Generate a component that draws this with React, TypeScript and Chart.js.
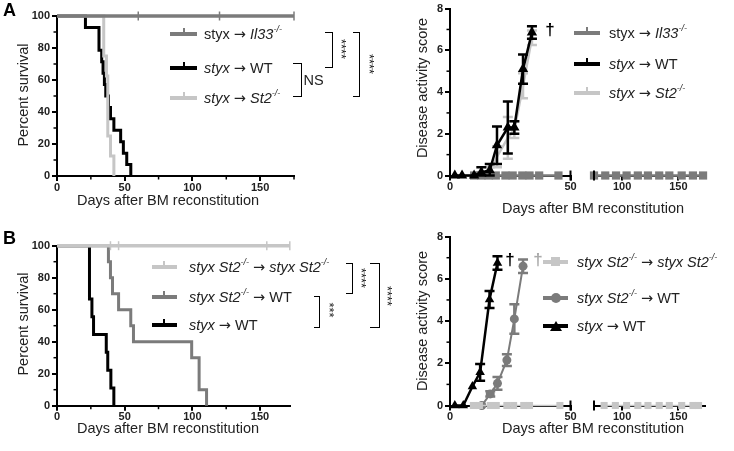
import React, { useEffect, useRef } from 'react';
import { Chart, registerables } from 'chart.js';

Chart.register(...registerables);

// ================= DATA =================
// Panel A – survival (Kaplan–Meier)
const survXTicks = [0, 50, 100, 150];
const survXMinor = [25, 75, 125, 175];
const survYTicks = [0, 20, 40, 60, 80, 100];
const survYMinor = [10, 30, 50, 70, 90];

const aIl33Days = [0, 175];
const aIl33Surv = [100, 100];
const aIl33CensorDays = [60, 120, 175];
const aIl33CensorSurv = [100, 100, 100];
const aWtDays = [0, 21, 31, 33, 34, 35, 36, 38, 39.5, 42, 47, 49, 51.5, 54.5];
const aWtSurv = [100, 92.86, 78.57, 71.43, 64.29, 57.14, 50, 42.86, 35.71, 28.57, 21.43, 14.29, 7.14, 0];
const aSt2Days = [0, 34.5, 36.5, 37.5, 39.5, 42];
const aSt2Surv = [100, 75, 62.5, 25, 12.5, 0];

// Panel A – disease activity score
const scoreYTicks = [0, 2, 4, 6, 8];
const scoreYMinor = [1, 3, 5, 7];
const seg1Ticks = [0, 50];
const seg2Ticks = [100, 150];

const aScoreDays = [2, 5, 10, 13, 16.5, 19.5, 24, 26.7, 30.3, 34];
const aWtScore = [0, 0, 0, 0.15, 0.25, 1.45, 2.3, 2.3, 5.1, 6.85];
const aWtErr = [0, 0, 0, 0.25, 0.3, 0.9, 1.25, 0.3, 0.7, 0.3];
const aSt2Score = [0, 0, 0, 0.05, 0.15, 0.9, 1.8, 2.2, 4.3, 6.6];
const aSt2Err = [0, 0, 0, 0.1, 0.25, 0.5, 1.0, 0.4, 0.6, 0.35];
const aIl33Days1 = [10, 13, 16, 19, 23, 26, 30, 33, 37, 45];
const aIl33Score1 = [0, 0, 0, 0, 0, 0, 0, 0, 0, 0];
const aIl33Days2 = [75, 85, 94.6, 104, 114, 123, 133, 142, 153, 163, 172];
const aIl33Score2 = [0, 0, 0, 0, 0, 0, 0, 0, 0, 0, 0];

// Panel B – survival
const bSurvXMinor = [25, 75, 125];
const bSt2St2Days = [0, 172];
const bSt2St2Surv = [100, 100];
const bSt2St2CensorDays = [39.5, 45.5, 155, 172];
const bSt2St2CensorSurv = [100, 100, 100, 100];
const bSt2WtDays = [0, 38, 39.5, 41, 45.5, 54.5, 56.5, 99.5, 105, 110.5];
const bSt2WtSurv = [100, 90, 80, 70, 60, 50, 40, 30, 10, 0];
const bWtDays = [0, 24, 25.8, 27, 36.4, 37.5, 39.8, 42];
const bWtSurv = [100, 66.67, 55.56, 44.44, 33.33, 22.22, 11.11, 0];

// Panel B – disease activity score
const bWtScoreDays = [2, 5.5, 9.3, 12.5, 16.4, 19.7];
const bWtScore = [0, 0, 0.9, 1.57, 5.02, 6.75];
const bWtErr = [0, 0, 0, 0.4, 0.4, 0.32];
const bSt2WtScoreDays = [13.2, 16.7, 19.7, 23.6, 26.7, 30.3];
const bSt2WtScore = [0, 0.55, 1.05, 2.15, 4.1, 6.6];
const bSt2WtErr = [0, 0.12, 0.3, 0.28, 0.7, 0.32];
const bSt2St2Days1 = [9.7, 12.2, 16.7, 19.2, 23.6, 26.4, 30.6, 33, 45.6];
const bSt2St2Score1 = [0, 0, 0, 0, 0, 0, 0, 0, 0];
const bSt2St2Days2 = [84, 94, 104, 114, 123, 133, 142, 153, 163, 168];
const bSt2St2Score2 = [0, 0, 0, 0, 0, 0, 0, 0, 0, 0];

// ================= STYLE =================
const FONT = "'Liberation Sans', Arial, Helvetica, sans-serif";
const ARROW_FONT = "'DejaVu Sans', 'Liberation Sans', sans-serif";
const BLACK = '#000000';
const DARK = '#7b7b7b';
const LIGHT = '#c6c6c6';
const TEXT = '#222222';

const pts = (xs: number[], ys: number[]) => xs.map((x, i) => ({ x, y: ys[i] }));

// minor ticks / axis-break marks plugin
const minorTicksPlugin = {
  id: 'minorTicks',
  defaults: { x: [], y: [], breaks: [] },
  afterDraw(chart: any, _args: any, opts: any) {
    const ctx = chart.ctx;
    const area = chart.chartArea;
    const xs = chart.scales.x;
    const ys = chart.scales.y;
    ctx.save();
    ctx.strokeStyle = '#000';
    ctx.lineWidth = 1.5;
    (opts.x || []).forEach((v: number) => {
      const px = xs.getPixelForValue(v);
      ctx.beginPath();
      ctx.moveTo(px, area.bottom);
      ctx.lineTo(px, area.bottom + 3.5);
      ctx.stroke();
    });
    (opts.y || []).forEach((v: number) => {
      const py = ys.getPixelForValue(v);
      ctx.beginPath();
      ctx.moveTo(area.left, py);
      ctx.lineTo(area.left - 3.5, py);
      ctx.stroke();
    });
    ctx.lineWidth = 2;
    (opts.breaks || []).forEach((v: number) => {
      const px = xs.getPixelForValue(v);
      ctx.beginPath();
      ctx.moveTo(px, area.bottom - 5);
      ctx.lineTo(px, area.bottom + 5);
      ctx.stroke();
    });
    ctx.restore();
  },
};

// error bars plugin: draws mean ± error from dataset.errors through the y scale
const errorBarsPlugin = {
  id: 'errorBars',
  afterDatasetDraw(chart: any, args: any) {
    const ds: any = chart.data.datasets[args.index];
    if (!ds.errors) return;
    const ys = chart.scales.y;
    const ctx = chart.ctx;
    ctx.save();
    ctx.strokeStyle = ds.borderColor;
    ctx.lineWidth = ds.errWidth || 2.5;
    args.meta.data.forEach((pt: any, i: number) => {
      const e = ds.errors[i];
      if (!e) return;
      const v = ds.data[i].y;
      const top = ys.getPixelForValue(v + e);
      const bot = ys.getPixelForValue(Math.max(v - e, 0));
      const cap = 5;
      ctx.beginPath();
      ctx.moveTo(pt.x, top);
      ctx.lineTo(pt.x, bot);
      ctx.moveTo(pt.x - cap, top);
      ctx.lineTo(pt.x + cap, top);
      ctx.moveTo(pt.x - cap, bot);
      ctx.lineTo(pt.x + cap, bot);
      ctx.stroke();
    });
    ctx.restore();
  },
};

Chart.register(minorTicksPlugin as any, errorBarsPlugin as any);

type Rect = { x: number; y: number; w: number; h: number };
type Area = { l: number; t: number; r: number; b: number };
type Spec = {
  rect: Rect;
  area: Area;
  xMin: number;
  xMax: number;
  xTicks: number[];
  xMinor: number[];
  yMin: number;
  yMax: number;
  yTicks: number[];
  yMinor: number[];
  showY: boolean;
  breaks?: number[];
  datasets: any[];
};

function buildConfig(p: Spec): any {
  const { rect, area } = p;
  const yW = area.l - rect.x;
  const xH = rect.y + rect.h - area.b;
  const tickFont = { family: FONT, size: 11, weight: 'bold' as const };
  const grid = { display: true, drawOnChartArea: false, drawTicks: true, tickLength: 5, lineWidth: 2, color: '#000' };
  const border = { display: true, width: 2, color: '#000' };
  return {
    type: 'line',
    data: { datasets: p.datasets },
    options: {
      animation: false,
      responsive: false,
      devicePixelRatio: 1,
      layout: {
        padding: {
          left: p.showY ? 0 : area.l - rect.x,
          right: rect.x + rect.w - area.r,
          top: area.t - rect.y,
          bottom: 0,
        },
      },
      plugins: {
        legend: { display: false },
        tooltip: { enabled: false },
        minorTicks: { x: p.xMinor, y: p.showY ? p.yMinor : [], breaks: p.breaks || [] },
      },
      scales: {
        x: {
          type: 'linear',
          min: p.xMin,
          max: p.xMax,
          afterBuildTicks: (s: any) => {
            s.ticks = p.xTicks.map((v) => ({ value: v }));
          },
          afterFit: (s: any) => {
            s.height = xH;
          },
          ticks: { autoSkip: false, maxRotation: 0, padding: 0, font: tickFont, color: TEXT, callback: (v: any) => String(v) },
          grid,
          border,
        },
        y: {
          type: 'linear',
          display: p.showY,
          min: p.yMin,
          max: p.yMax,
          afterBuildTicks: (s: any) => {
            s.ticks = p.yTicks.map((v) => ({ value: v }));
          },
          afterFit: (s: any) => {
            s.width = yW;
          },
          ticks: { autoSkip: false, padding: 2, font: tickFont, color: TEXT, callback: (v: any) => String(v) },
          grid,
          border,
        },
      },
    },
  };
}

function ChartBox({ spec }: { spec: Spec }) {
  const ref = useRef<HTMLCanvasElement>(null);
  useEffect(() => {
    const chart = new Chart(ref.current as HTMLCanvasElement, buildConfig(spec));
    return () => chart.destroy();
  }, []);
  const r = spec.rect;
  return (
    <canvas
      ref={ref}
      width={r.w}
      height={r.h}
      style={{ position: 'absolute', left: r.x, top: r.y, width: r.w, height: r.h }}
    />
  );
}

// ---- dataset helpers ----
// Kaplan–Meier: value holds until the event day, then drops (step before the point)
const survLine = (xs: number[], ys: number[], color: string, order: number, width = 3) => ({
  data: pts(xs, ys),
  borderColor: color,
  borderWidth: width,
  stepped: 'before',
  pointRadius: 0,
  order,
  clip: false,
});
const censor = (xs: number[], ys: number[], color: string, order: number) => ({
  data: pts(xs, ys),
  showLine: false,
  pointStyle: 'line',
  rotation: 90,
  pointRadius: 4.5,
  pointBorderWidth: 1.5,
  borderColor: color,
  pointBorderColor: color,
  order,
  clip: false,
});
const scoreLine = (
  xs: number[],
  ys: number[],
  color: string,
  order: number,
  style: string,
  radius: number,
  width: number,
  errors?: number[],
) => ({
  data: pts(xs, ys),
  borderColor: color,
  borderWidth: width,
  pointStyle: style,
  pointRadius: radius,
  pointBackgroundColor: color,
  pointBorderColor: color,
  pointBorderWidth: 0,
  order,
  clip: false,
  errors,
  errWidth: 2.5,
});

// ---- panel specs ----
const specALeft: Spec = {
  rect: { x: 0, y: 0, w: 300, h: 215 },
  area: { l: 57, t: 16, r: 295, b: 176 },
  xMin: 0, xMax: 175, xTicks: survXTicks, xMinor: survXMinor,
  yMin: 0, yMax: 100, yTicks: survYTicks, yMinor: survYMinor,
  showY: true,
  datasets: [
    survLine(aIl33Days, aIl33Surv, DARK, 0, 3.5),
    censor(aIl33CensorDays, aIl33CensorSurv, DARK, 0),
    survLine(aSt2Days, aSt2Surv, LIGHT, 1),
    survLine(aWtDays, aWtSurv, BLACK, 2),
  ],
};

const specARight1: Spec = {
  rect: { x: 400, y: 0, w: 180, h: 215 },
  area: { l: 450, t: 7.5, r: 570.5, b: 175.5 },
  xMin: 0, xMax: 50, xTicks: seg1Ticks, xMinor: [],
  yMin: 0, yMax: 8, yTicks: scoreYTicks, yMinor: scoreYMinor,
  showY: true,
  breaks: [50],
  datasets: [
    scoreLine(aScoreDays, aWtScore, BLACK, 0, 'triangle', 6, 2.5, aWtErr),
    scoreLine(aIl33Days1, aIl33Score1, DARK, 1, 'rect', 5.8, 2.5),
    scoreLine(aScoreDays, aSt2Score, LIGHT, 2, 'circle', 0, 2.5, aSt2Err),
  ],
};

const specARight2: Spec = {
  rect: { x: 575, y: 0, w: 159, h: 215 },
  area: { l: 584.5, t: 7.5, r: 705.3, b: 175.5 },
  xMin: 75, xMax: 174, xTicks: seg2Ticks, xMinor: [],
  yMin: 0, yMax: 8, yTicks: scoreYTicks, yMinor: [],
  showY: false,
  breaks: [75],
  datasets: [scoreLine(aIl33Days2, aIl33Score2, DARK, 0, 'rect', 5.8, 2.5)],
};

const specBLeft: Spec = {
  rect: { x: 0, y: 230, w: 300, h: 215 },
  area: { l: 57, t: 245.7, r: 289.8, b: 405.7 },
  xMin: 0, xMax: 172, xTicks: survXTicks, xMinor: bSurvXMinor,
  yMin: 0, yMax: 100, yTicks: survYTicks, yMinor: survYMinor,
  showY: true,
  datasets: [
    survLine(bSt2St2Days, bSt2St2Surv, LIGHT, 0, 3.5),
    censor(bSt2St2CensorDays, bSt2St2CensorSurv, LIGHT, 0),
    survLine(bSt2WtDays, bSt2WtSurv, DARK, 1),
    survLine(bWtDays, bWtSurv, BLACK, 2),
  ],
};

const specBRight1: Spec = {
  rect: { x: 400, y: 228, w: 180, h: 215 },
  area: { l: 450, t: 235.5, r: 570.5, b: 405.5 },
  xMin: 0, xMax: 50, xTicks: seg1Ticks, xMinor: [],
  yMin: 0, yMax: 8, yTicks: scoreYTicks, yMinor: scoreYMinor,
  showY: true,
  breaks: [50],
  datasets: [
    scoreLine(bWtScoreDays, bWtScore, BLACK, 0, 'triangle', 5.5, 2.5, bWtErr),
    scoreLine(bSt2St2Days1, bSt2St2Score1, LIGHT, 1, 'rect', 5, 1.5),
    scoreLine(bSt2WtScoreDays, bSt2WtScore, DARK, 2, 'circle', 4.5, 2, bSt2WtErr),
  ],
};

const specBRight2: Spec = {
  rect: { x: 575, y: 228, w: 159, h: 215 },
  area: { l: 584.5, t: 235.5, r: 705.3, b: 405.5 },
  xMin: 75, xMax: 174, xTicks: seg2Ticks, xMinor: [],
  yMin: 0, yMax: 8, yTicks: scoreYTicks, yMinor: [],
  showY: false,
  breaks: [75],
  datasets: [scoreLine(bSt2St2Days2, bSt2St2Score2, LIGHT, 0, 'rect', 5, 1.5)],
};

// ================= HTML TEXT =================
const Txt = ({
  x, y, children, size = 14.5, rot = 0, weight = 'normal', color = TEXT, left = false,
}: any) => (
  <div
    style={{
      position: 'absolute',
      left: x,
      top: y,
      transform: `translate(${left ? '0' : '-50%'}, -50%) rotate(${rot}deg)`,
      fontSize: size,
      fontWeight: weight,
      color,
      whiteSpace: 'nowrap',
      lineHeight: 1,
      fontFamily: FONT,
    }}
  >
    {children}
  </div>
);

const Sup = ({ children }: any) => (
  <sup style={{ fontSize: '0.62em', fontStyle: 'italic', verticalAlign: '0.75em', lineHeight: 0 }}>{children}</sup>
);

const Arr = () => <span style={{ fontFamily: ARROW_FONT }}>→</span>;

const Bracket = ({ x, y1, y2, w }: any) => (
  <div
    style={{
      position: 'absolute',
      left: x - w,
      top: y1,
      width: w,
      height: y2 - y1,
      boxSizing: 'border-box',
      borderTop: '1.5px solid #000',
      borderRight: '1.5px solid #000',
      borderBottom: '1.5px solid #000',
    }}
  />
);

const Swatch = ({ x1, x2, y, color, marker }: any) => {
  const mid = (x1 + x2) / 2;
  let m: any = null;
  if (marker === 'tick') {
    m = <div style={{ position: 'absolute', left: mid - 1, top: y - 6, width: 2, height: 6, background: color }} />;
  } else if (marker === 'square') {
    m = <div style={{ position: 'absolute', left: mid - 4.5, top: y - 4.5, width: 9, height: 9, background: color }} />;
  } else if (marker === 'circle') {
    m = <div style={{ position: 'absolute', left: mid - 5, top: y - 5, width: 10, height: 10, borderRadius: 5, background: color }} />;
  } else if (marker === 'triangle') {
    m = (
      <div
        style={{
          position: 'absolute', left: mid - 6, top: y - 5.5, width: 0, height: 0,
          borderLeft: '6px solid transparent', borderRight: '6px solid transparent', borderBottom: `10px solid ${color}`,
        }}
      />
    );
  }
  return (
    <>
      <div style={{ position: 'absolute', left: x1, top: y - 2, width: x2 - x1, height: 4, background: color }} />
      {m}
    </>
  );
};

export default function App() {
  return (
    <div
      style={{
        position: 'fixed', left: 0, top: 0, width: 734, height: 451, background: '#fff',
        overflow: 'hidden', fontFamily: FONT,
      }}
    >
      <ChartBox spec={specALeft} />
      <ChartBox spec={specARight1} />
      <ChartBox spec={specARight2} />
      <ChartBox spec={specBLeft} />
      <ChartBox spec={specBRight1} />
      <ChartBox spec={specBRight2} />

      {/* panel letters */}
      <Txt x={3} y={10} size={18} weight="bold" color="#000" left>A</Txt>
      <Txt x={3} y={238} size={18} weight="bold" color="#000" left>B</Txt>

      {/* axis titles */}
      <Txt x={23} y={95} rot={-90}>Percent survival</Txt>
      <Txt x={168} y={200}>Days after BM reconstitution</Txt>
      <Txt x={421.7} y={88} rot={-90}>Disease activity score</Txt>
      <Txt x={593} y={208}>Days after BM reconstitution</Txt>
      <Txt x={23} y={324} rot={-90}>Percent survival</Txt>
      <Txt x={168} y={428}>Days after BM reconstitution</Txt>
      <Txt x={421.7} y={321} rot={-90}>Disease activity score</Txt>
      <Txt x={593} y={428}>Days after BM reconstitution</Txt>

      {/* A left legend */}
      <Swatch x1={170} x2={197} y={34.3} color={DARK} marker="tick" />
      <Txt x={204} y={34.3} left>styx <Arr /> <i>Il33</i><Sup>-/-</Sup></Txt>
      <Swatch x1={170} x2={197} y={67.7} color={BLACK} marker="tick" />
      <Txt x={204} y={67.7} left><i>styx</i> <Arr /> WT</Txt>
      <Swatch x1={170} x2={197} y={97.7} color={LIGHT} marker="tick" />
      <Txt x={204} y={97.7} left><i>styx</i> <Arr /> <i>St2</i><Sup>-/-</Sup></Txt>

      {/* A brackets */}
      <Bracket x={333} y1={32} y2={68} w={8} />
      <Txt x={341} y={49} size={13} rot={90}>****</Txt>
      <Bracket x={301.7} y1={62.7} y2={97.3} w={9} />
      <Txt x={313.5} y={80}>NS</Txt>
      <Bracket x={360} y1={32} y2={96.7} w={7.3} />
      <Txt x={369} y={64} size={13} rot={90}>****</Txt>

      {/* A right legend */}
      <Swatch x1={574} x2={600} y={33.3} color={DARK} marker="tick" />
      <Txt x={609} y={33.3} left>styx <Arr /> <i>Il33</i><Sup>-/-</Sup></Txt>
      <Swatch x1={574} x2={600} y={64.3} color={BLACK} marker="tick" />
      <Txt x={609} y={64.3} left><i>styx</i> <Arr /> WT</Txt>
      <Swatch x1={574} x2={600} y={92.7} color={LIGHT} marker="tick" />
      <Txt x={609} y={92.7} left><i>styx</i> <Arr /> <i>St2</i><Sup>-/-</Sup></Txt>
      <Txt x={550} y={29} size={17} weight="bold" color="#000">†</Txt>

      {/* B left legend */}
      <Swatch x1={151.7} x2={177} y={267} color={LIGHT} marker="tick" />
      <Txt x={189} y={267} left><i>styx St2</i><Sup>-/-</Sup> <Arr /> <i>styx St2</i><Sup>-/-</Sup></Txt>
      <Swatch x1={151.7} x2={177} y={297} color={DARK} marker="tick" />
      <Txt x={189} y={297} left><i>styx St2</i><Sup>-/-</Sup> <Arr /> WT</Txt>
      <Swatch x1={151.7} x2={177} y={324.5} color={BLACK} marker="tick" />
      <Txt x={189} y={324.5} left><i>styx</i> <Arr /> WT</Txt>

      {/* B brackets */}
      <Bracket x={353.3} y1={262.7} y2={294} w={7.3} />
      <Txt x={360.7} y={278} size={13} rot={90}>****</Txt>
      <Bracket x={320} y1={296} y2={327.7} w={5.7} />
      <Txt x={329} y={310} size={13} rot={90}>***</Txt>
      <Bracket x={380} y1={263.3} y2={328.3} w={10} />
      <Txt x={387} y={296} size={13} rot={90}>****</Txt>

      {/* B right legend */}
      <Swatch x1={543} x2={568} y={261.7} color={LIGHT} marker="square" />
      <Txt x={577} y={261.7} left><i>styx St2</i><Sup>-/-</Sup> <Arr /> <i>styx St2</i><Sup>-/-</Sup></Txt>
      <Swatch x1={543} x2={568} y={298} color={DARK} marker="circle" />
      <Txt x={577} y={298} left><i>styx St2</i><Sup>-/-</Sup> <Arr /> WT</Txt>
      <Swatch x1={543} x2={568} y={326} color={BLACK} marker="triangle" />
      <Txt x={577} y={326} left><i>styx</i> <Arr /> WT</Txt>
      <Txt x={510} y={259} size={17} weight="bold" color="#000">†</Txt>
      <Txt x={538} y={259} size={17} weight="bold" color="#aaaaaa">†</Txt>
    </div>
  );
}
